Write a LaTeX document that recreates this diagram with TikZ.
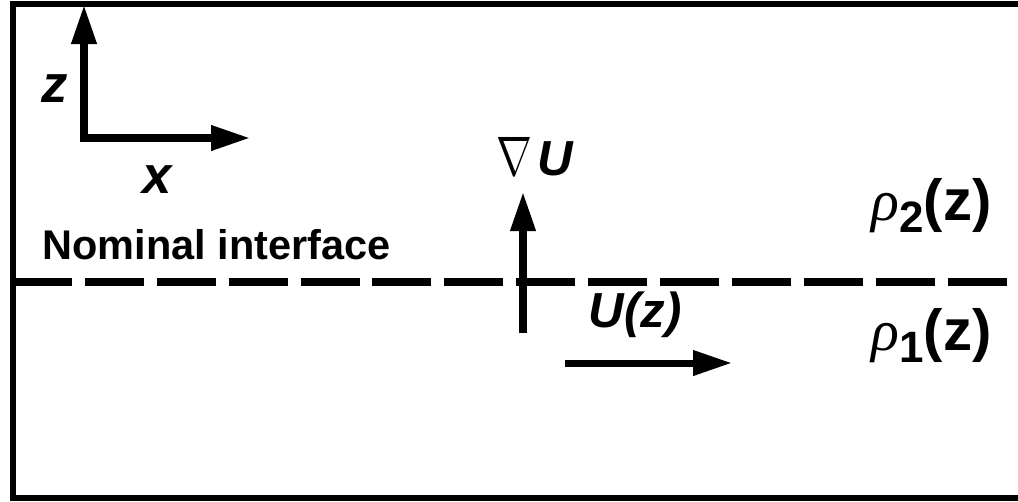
\documentclass[tikz,border=0pt]{standalone}
\usepackage{fontspec}
\setmainfont{Liberation Sans}
\newfontfamily\rhofont{Liberation Serif}
\usetikzlibrary{arrows.meta}

\begin{document}
\begin{tikzpicture}[
  x=0.1mm,y=-0.1mm,
  >={Triangle[length=3.9mm,width=2.4mm]},
  frame/.style={line width=1.6pt,line join=miter},
  arr/.style={line width=2pt,line join=miter},
  iface/.style={line width=2.1pt,dash pattern=on 5.9mm off 1.29mm},
  axlbl/.style={inner sep=0pt,font=\fontsize{15}{17}\selectfont\bfseries\itshape},
  ilbl/.style={inner sep=0pt,font=\fontsize{11.8}{13}\selectfont\bfseries},
  vlbl/.style={inner sep=0pt,font=\fontsize{14}{16}\selectfont\bfseries\itshape},
  rholbl/.style={inner sep=0pt,font=\fontsize{16.5}{18}\selectfont\bfseries}
]
\useasboundingbox (0,0) rectangle (1018,501);
% box, open on the right
\draw[frame] (1018,4) -- (13,4) -- (13,498) -- (1018,498);
% axes
\coordinate (orig) at (84,138);
\coordinate (ztip) at (84,5);
\coordinate (xtip) at (250,138);
\draw[arr,<->] (ztip) -- (orig) -- (xtip);
\node[axlbl] (zlab) at (55,89) {z};
\node[axlbl] (xlab) at (157,180) {x};
% interface
\coordinate (ifl) at (13,282);
\coordinate (ifr) at (1008,282);
\draw[iface] (ifl) -- (ifr);
\node[ilbl,anchor=base west] (nomlab) at (42,259) {Nominal interface};
% shear and gradient
\coordinate (gbot) at (523,333);
\coordinate (gtop) at (523,192);
\draw[arr,->] (gbot) -- (gtop);
\node[vlbl,anchor=base west] (gradlab) at (496,175) {\scalebox{0.85}[1.1]{$\nabla$}\kern0.5mm U};
\coordinate (ubeg) at (565,363);
\coordinate (uend) at (732,363);
\draw[arr,->] (ubeg) -- (uend);
\node[vlbl,anchor=base west] (ulab) at (588,327) {U(z)};
% densities
\node[rholbl,anchor=base west] (rhotop) at (871,220) {{\rhofont\mdseries\itshape ρ}\raisebox{-1.2mm}{\fontsize{12.5}{14}\selectfont 2}(z)};
\node[rholbl,anchor=base west] (rhobot) at (871,350) {{\rhofont\mdseries\itshape ρ}\raisebox{-1.2mm}{\fontsize{12.5}{14}\selectfont 1}(z)};
\end{tikzpicture}
\end{document}
